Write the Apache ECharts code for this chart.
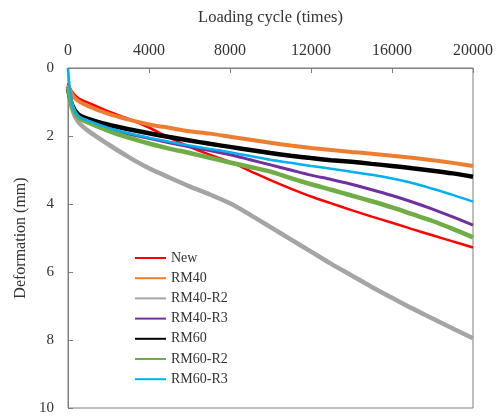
<!DOCTYPE html>
<html><head><meta charset="utf-8">
<script src="https://cdn.jsdelivr.net/npm/echarts@6/dist/echarts.min.js"></script>
<style>html,body{margin:0;padding:0;background:#fff}#c{width:496px;height:420px}</style>
</head><body><div id="c"></div>
<script>
var cycles = [0, 200, 500, 1000, 2000, 3000, 4000, 5000, 6000, 7000, 8000, 9000, 10000, 11000, 12000, 13000, 14000, 15000, 16000, 17000, 18000, 19000, 20000];
var seriesNames = ['New', 'RM40', 'RM40-R2', 'RM40-R3', 'RM60', 'RM60-R2', 'RM60-R3'];
var newVals   = [0.45, 0.70, 0.88, 1.02, 1.28, 1.50, 1.75, 2.05, 2.32, 2.55, 2.76, 3.03, 3.30, 3.55, 3.78, 3.98, 4.18, 4.37, 4.55, 4.74, 4.92, 5.10, 5.28];
var rm40      = [0.50, 0.78, 0.97, 1.12, 1.35, 1.52, 1.66, 1.76, 1.86, 1.93, 2.02, 2.11, 2.20, 2.28, 2.35, 2.41, 2.47, 2.52, 2.58, 2.64, 2.71, 2.79, 2.88];
var rm40r2    = [0.55, 1.20, 1.58, 1.85, 2.25, 2.62, 2.95, 3.22, 3.48, 3.72, 3.98, 4.32, 4.68, 5.04, 5.40, 5.76, 6.10, 6.44, 6.76, 7.07, 7.37, 7.66, 7.95];
var rm40r3    = [0.55, 1.08, 1.40, 1.55, 1.78, 1.94, 2.07, 2.20, 2.32, 2.43, 2.55, 2.70, 2.85, 3.00, 3.15, 3.28, 3.42, 3.58, 3.75, 3.94, 4.15, 4.38, 4.62];
var rm60      = [0.60, 1.08, 1.36, 1.50, 1.67, 1.80, 1.92, 2.03, 2.13, 2.23, 2.32, 2.41, 2.50, 2.58, 2.65, 2.71, 2.76, 2.82, 2.88, 2.95, 3.02, 3.10, 3.20];
var rm60r2    = [0.55, 1.12, 1.45, 1.60, 1.85, 2.05, 2.22, 2.37, 2.50, 2.64, 2.78, 2.91, 3.05, 3.24, 3.42, 3.58, 3.75, 3.92, 4.10, 4.30, 4.50, 4.73, 4.98];
var rm60r3    = [0.00, 1.05, 1.40, 1.55, 1.76, 1.92, 2.05, 2.17, 2.28, 2.38, 2.48, 2.59, 2.70, 2.79, 2.88, 2.96, 3.05, 3.14, 3.25, 3.38, 3.55, 3.73, 3.93];
var xTicks = [0, 4000, 8000, 12000, 16000, 20000];
var yTicks = [0, 2, 4, 6, 8, 10];

var valueSets = [newVals, rm40, rm40r2, rm40r3, rm60, rm60r2, rm60r3];
var colors = ['#ff0000', '#ed7d31', '#a5a5a5', '#7030a0', '#000000', '#70ad47', '#00b0f0'];
var widths = [2.5, 4, 4.5, 3, 4.5, 4.5, 2.5];
var font = 'Liberation Serif, Times New Roman, serif';

function pairs(v) { return cycles.map(function (c, i) { return [c, v[i]]; }); }

var chart = echarts.init(document.getElementById('c'), null, {renderer: 'canvas'});
chart.setOption({
  animation: false,
  backgroundColor: '#fff',
  grid: {left: 68, right: 22, top: 68, bottom: 12, show: true, borderColor: '#7f7f7f', borderWidth: 1, backgroundColor: 'transparent'},
  legend: {
    orient: 'vertical', left: 130, top: 246, itemWidth: 31, itemHeight: 2, itemGap: 6.2,
    data: seriesNames.map(function (n) { return {name: n, icon: 'rect'}; }),
    textStyle: {fontFamily: font, fontSize: 14, lineHeight: 14, color: '#333'}
  },
  xAxis: {
    type: 'value', position: 'top', min: xTicks[0], max: xTicks[xTicks.length - 1], interval: xTicks[1] - xTicks[0],
    name: 'Loading cycle (times)', nameLocation: 'middle', nameGap: 42, nameMoveOverlap: false,
    nameTextStyle: {fontFamily: font, fontSize: 16.5, color: '#333'},
    axisLine: {show: true, lineStyle: {color: '#7f7f7f', width: 1}},
    axisTick: {show: true, inside: true, length: 5, lineStyle: {color: '#7f7f7f'}},
    axisLabel: {fontFamily: font, fontSize: 16, color: '#333', margin: 9, formatter: function (v) { return String(v); }},
    splitLine: {show: false}
  },
  yAxis: {
    type: 'value', inverse: true, min: yTicks[0], max: yTicks[yTicks.length - 1], interval: yTicks[1] - yTicks[0],
    name: 'Deformation (mm)', nameLocation: 'middle', nameGap: 39, nameRotate: 90, nameMoveOverlap: false,
    nameTextStyle: {fontFamily: font, fontSize: 16, color: '#333'},
    axisLine: {show: true, lineStyle: {color: '#7f7f7f', width: 1}},
    axisTick: {show: true, inside: true, length: 5, lineStyle: {color: '#7f7f7f'}},
    axisLabel: {fontFamily: font, fontSize: 15, color: '#333', margin: 14},
    splitLine: {show: false}
  },
  series: seriesNames.map(function (n, i) {
    return {
      name: n, type: 'line', data: pairs(valueSets[i]), symbol: 'none', smooth: 0.3,
      color: colors[i], lineStyle: {color: colors[i], width: widths[i]}
    };
  })
});
</script></body></html>
